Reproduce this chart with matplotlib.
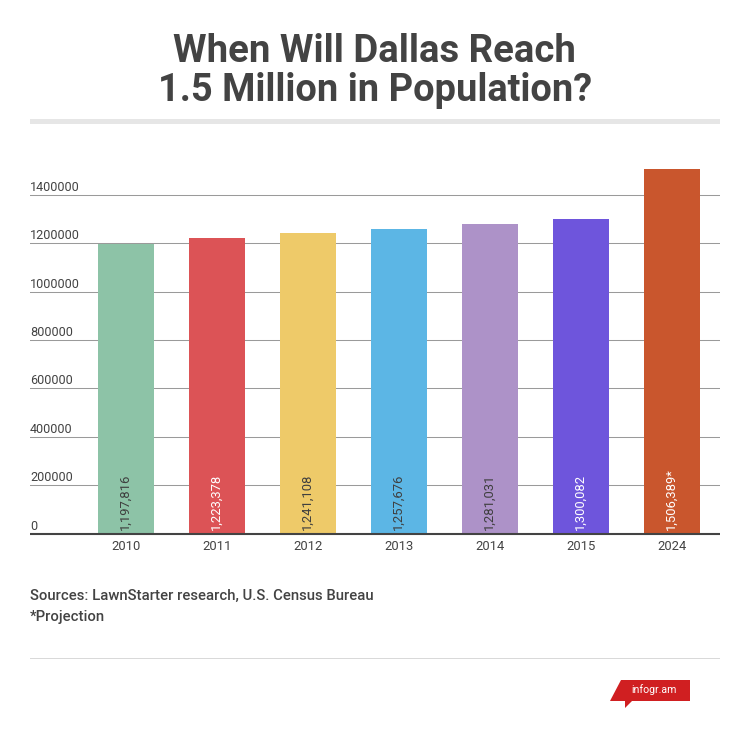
import matplotlib
matplotlib.use('Agg')
import matplotlib.pyplot as plt
from matplotlib.patches import Polygon, Rectangle

# --- Data ---
years = ['2010', '2011', '2012', '2013', '2014', '2015', '2024']
population = [1197816, 1223378, 1241108, 1257676, 1281031, 1300082, 1506389]
bar_labels = ['1,197,816', '1,223,378', '1,241,108', '1,257,676', '1,281,031', '1,300,082', '1,506,389*']
bar_colors = ['#8DC3A7', '#DC5356', '#EECA69', '#5CB6E5', '#AD92C8', '#6E55DC', '#C9562D']
label_colors = ['#3F3F3F', '#FFFFFF', '#3F3F3F', '#3F3F3F', '#3F3F3F', '#FFFFFF', '#FFFFFF']
y_ticks = [0, 200000, 400000, 600000, 800000, 1000000, 1200000, 1400000]

# --- Configuration ---
W, H = 750, 731
TEXT = '#434343'
plt.rcParams['font.family'] = 'Roboto'


def px(x, y):
    # pixel position (from top left) to figure fraction
    return x / W, 1 - y / H


fig = plt.figure(figsize=(W / 100, H / 100), dpi=100, facecolor='white')
ax = fig.add_axes([30 / W, 1 - 533.5 / H, 690 / W, 384 / H])

ax.bar(range(len(years)), population, width=0.615, color=bar_colors, zorder=2)
for i, label in enumerate(bar_labels):
    ax.annotate(label, (i, 0), xytext=(-0.8, 2.8), textcoords='offset points',
                rotation=90, ha='center', va='bottom',
                fontsize=9.4, color=label_colors[i], zorder=3)

ax.set_xlim(-1.055, 6.527)
ax.set_ylim(0, 384 / 338.5 * 1400000)

ax.set_xticks(range(len(years)), years)
ax.set_yticks(y_ticks)
ax.set_yticklabels([])
ax.tick_params(axis='both', length=0)
ax.tick_params(axis='x', labelsize=9.4, labelcolor=TEXT, pad=4.5)
ax.grid(axis='y', color='#9A9A9A', linewidth=0.75, zorder=1)
ax.set_axisbelow(True)

# y labels sit inside the axes, just above each gridline
for val in y_ticks:
    ax.annotate(str(val), (0, val), xycoords=('axes fraction', 'data'),
                xytext=(0, 0.7), textcoords='offset points',
                fontsize=9.1, color=TEXT, ha='left', va='bottom')

for side in ['top', 'right', 'left']:
    ax.spines[side].set_visible(False)
ax.spines['bottom'].set_color(TEXT)
ax.spines['bottom'].set_linewidth(1.5)
ax.spines['bottom'].set_capstyle('butt')

# --- Title and rule ---
fig.text(*px(374.5, 51.5), 'When Will Dallas Reach', ha='center', va='center',
         fontsize=27.6, fontweight='bold', color=TEXT)
fig.text(*px(375, 90.5), '1.5 Million in Population?', ha='center', va='center',
         fontsize=27.4, fontweight='bold', color=TEXT)
fig.add_artist(Rectangle(px(30, 124), 690 / W, 5 / H, transform=fig.transFigure,
                         facecolor='#E6E6E6', edgecolor='none'))

# --- Footer ---
fig.text(*px(30, 595.5), 'Sources: LawnStarter research, U.S. Census Bureau',
         ha='left', va='center', fontsize=10.7, fontweight='medium', color=TEXT)
fig.text(*px(30, 617.5), '*Projection',
         ha='left', va='center', fontsize=10.7, fontweight='medium', color=TEXT)
fig.add_artist(Rectangle(px(30, 658.5), 690 / W, 1 / H, transform=fig.transFigure,
                         facecolor='#D9D9D9', edgecolor='none'))

# --- Logo ---
logo = [(621, 680), (690, 680), (690, 701), (632, 701), (625, 708), (625, 701), (610, 701)]
fig.add_artist(Polygon([px(x, y) for x, y in logo], closed=True,
                       transform=fig.transFigure, facecolor='#D01F21', edgecolor='none'))
fig.text(*px(654, 690), 'infogr.am', ha='center', va='center',
         fontsize=7.6, color='white')

fig.savefig('out.png', dpi=100)
